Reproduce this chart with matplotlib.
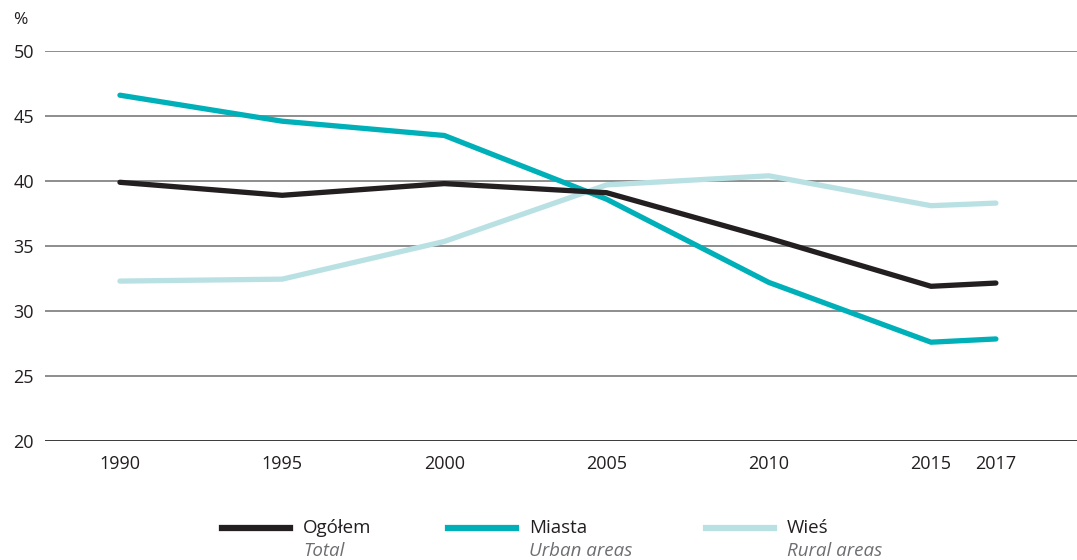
import matplotlib.pyplot as plt
from matplotlib.lines import Line2D

plt.rcParams['font.family'] = ['Open Sans', 'DejaVu Sans']

years = [1990, 1995, 2000, 2005, 2010, 2015, 2017]
total = [39.9, 38.9, 39.8, 39.1, 35.6, 31.9, 32.15]
urban = [46.6, 44.6, 43.5, 38.6, 32.2, 27.6, 27.85]
rural = [32.3, 32.45, 35.35, 39.7, 40.4, 38.1, 38.3]

names_pl = ['Ogółem', 'Miasta', 'Wieś']
names_en = ['Total', 'Urban areas', 'Rural areas']
colors = ['#231f20', '#00b0b9', '#b9e1e3']
series = [total, urban, rural]

fig = plt.figure(figsize=(10.77, 5.6), dpi=100)
ax = fig.add_axes([45 / 1077, 1 - 441 / 560, 1 - 45 / 1077, 390 / 560])

for y in range(25, 51, 5):
    ax.axhline(y, color='#6f6f6f', lw=1.1, zorder=1)
ax.axhline(20, color='#3a3a3a', lw=1.4, zorder=1)

# light line drawn first so dark ones sit on top where they cross
for vals, c, z in zip(series, colors, [4, 3, 2]):
    ax.plot(years, vals, color=c, lw=3.8, solid_capstyle='round',
            solid_joinstyle='round', zorder=z)

ax.set_xlim(1987.69, 2019.5)
ax.set_ylim(20, 50)
ax.set_xticks(years)
ax.set_xticklabels([str(y) for y in years])
ax.set_yticks(range(20, 51, 5))
ax.tick_params(length=0, labelsize=13, colors='#231f20')
ax.tick_params(axis='x', pad=10)
ax.tick_params(axis='y', pad=8)
for s in ax.spines.values():
    s.set_visible(False)

fig.text(13 / 1077, 1 - 20 / 560, '%', fontsize=12.5, color='#231f20',
         va='center', ha='left')

# legend below the plot
leg_x = [222, 448, 706]
for x0, c, pl, en in zip(leg_x, colors, names_pl, names_en):
    fig.add_artist(Line2D([x0 / 1077, (x0 + 68) / 1077],
                          [1 - 528 / 560, 1 - 528 / 560],
                          color=c, lw=4.5))
    fig.text((x0 + 81) / 1077, 1 - 528 / 560, pl, fontsize=13.5,
             color='#231f20', va='center', ha='left')
    fig.text((x0 + 81) / 1077, 1 - 551 / 560, en, fontsize=13.5,
             color='#6d6e71', style='italic', va='center', ha='left')

fig.savefig('out.png', dpi=100)
